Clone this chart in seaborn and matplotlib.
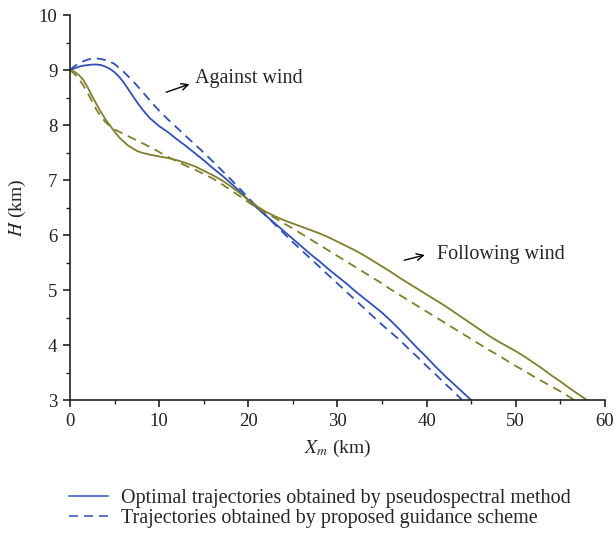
import numpy as np
import pandas as pd
import matplotlib
matplotlib.use("Agg")
import matplotlib.pyplot as plt
import seaborn as sns
from matplotlib.ticker import MultipleLocator
from matplotlib.lines import Line2D

# ---------------- data ----------------
blue_opt_x = [0, 0.5, 1, 1.5, 2, 2.5, 3, 3.5, 4, 4.5, 5, 5.5, 6, 6.5, 7, 7.5, 8, 8.5, 9, 9.5,
              10, 11, 12, 13, 14, 15, 16, 17, 18, 19, 20, 21, 22, 23, 24, 25, 26, 27, 28, 29,
              30, 31, 32, 33, 34, 35, 36, 37, 38, 39, 40, 41, 42, 43, 44, 45]
blue_opt_y = [9.00, 9.03, 9.06, 9.08, 9.09, 9.10, 9.10, 9.09, 9.06, 9.02, 8.96, 8.88, 8.78, 8.66, 8.54, 8.42, 8.31, 8.21, 8.12, 8.05,
              7.98, 7.87, 7.74, 7.62, 7.49, 7.36, 7.22, 7.09, 6.95, 6.80, 6.64, 6.49, 6.35, 6.21, 6.07, 5.93, 5.79, 5.65, 5.52, 5.38,
              5.25, 5.12, 4.98, 4.85, 4.72, 4.59, 4.44, 4.28, 4.11, 3.94, 3.78, 3.61, 3.45, 3.30, 3.15, 3.00]

blue_gd_x = [0, 0.5, 1, 1.5, 2, 2.5, 3, 3.5, 4, 4.5, 5, 5.5, 6, 6.5, 7, 8, 9,
             10, 11, 12, 13, 14, 15, 16, 17, 18, 19, 20, 21, 22, 23, 24, 25, 26, 27, 28, 29,
             30, 31, 32, 33, 34, 35, 36, 37, 38, 39, 40, 41, 42, 43, 44]
blue_gd_y = [9.00, 9.07, 9.12, 9.16, 9.19, 9.21, 9.21, 9.20, 9.18, 9.15, 9.11, 9.04, 8.97, 8.89, 8.81, 8.63, 8.44,
             8.26, 8.10, 7.95, 7.80, 7.65, 7.50, 7.34, 7.18, 7.02, 6.85, 6.68, 6.51, 6.35, 6.19, 6.03, 5.87, 5.72, 5.57, 5.42, 5.27,
             5.12, 4.97, 4.82, 4.67, 4.52, 4.37, 4.23, 4.09, 3.93, 3.78, 3.62, 3.47, 3.31, 3.16, 3.00]

olive_opt_x = [0, 0.5, 1, 1.5, 2, 2.5, 3, 3.5, 4, 4.5, 5, 5.5, 6, 6.5, 7, 7.5, 8, 9,
               10, 11, 12, 13, 14, 15, 16, 17, 18, 19, 20, 21, 22, 23, 24, 25, 26, 27, 28, 29,
               30, 31, 32, 33, 34, 35, 36, 37, 38, 39, 40, 41, 42, 43, 44, 45, 46, 47, 48, 49,
               50, 51, 52, 53, 54, 55, 56, 57, 58]
olive_opt_y = [9.00, 8.97, 8.91, 8.82, 8.68, 8.52, 8.37, 8.23, 8.10, 7.99, 7.88, 7.78, 7.70, 7.63, 7.58, 7.53, 7.50, 7.46,
               7.43, 7.40, 7.36, 7.31, 7.25, 7.17, 7.09, 7.00, 6.89, 6.77, 6.64, 6.52, 6.42, 6.34, 6.27, 6.21, 6.15, 6.09, 6.03, 5.96,
               5.88, 5.80, 5.72, 5.63, 5.53, 5.43, 5.33, 5.22, 5.12, 5.02, 4.92, 4.82, 4.72, 4.61, 4.50, 4.39, 4.28, 4.17, 4.07, 3.98,
               3.89, 3.79, 3.68, 3.57, 3.45, 3.34, 3.22, 3.11, 3.00]

olive_gd_x = [0, 0.5, 1, 1.5, 2, 2.5, 3, 3.5, 4, 4.5, 5, 6, 7, 8, 9,
              10, 11, 12, 13, 14, 15, 16, 17, 18, 19, 20, 21, 22, 23, 24, 25, 26, 27, 28, 29,
              30, 31, 32, 33, 34, 35, 36, 37, 38, 39, 40, 41, 42, 43, 44, 45, 46, 47, 48, 49,
              50, 51, 52, 53, 54, 55, 56, 56.6]
olive_gd_y = [9.00, 8.93, 8.84, 8.72, 8.58, 8.42, 8.27, 8.15, 8.05, 7.98, 7.92, 7.84, 7.76, 7.68, 7.60,
              7.51, 7.42, 7.34, 7.26, 7.19, 7.11, 7.03, 6.93, 6.82, 6.71, 6.60, 6.49, 6.40, 6.31, 6.21, 6.12, 6.02, 5.92, 5.82, 5.72,
              5.62, 5.52, 5.42, 5.32, 5.22, 5.12, 5.01, 4.91, 4.81, 4.71, 4.61, 4.51, 4.41, 4.31, 4.21, 4.11, 4.01, 3.91, 3.82, 3.72,
              3.62, 3.53, 3.43, 3.34, 3.25, 3.16, 3.06, 3.00]

legend_labels = ["Optimal trajectories obtained by pseudospectral method",
                 "Trajectories obtained by proposed guidance scheme"]

x_ticks = [0, 10, 20, 30, 40, 50, 60]
y_ticks = [3, 4, 5, 6, 7, 8, 9, 10]

BLUE = "#2f51b5"
OLIVE = "#7f7f2c"

# ---------------- style ----------------
sns.set_theme(style="ticks")
plt.rcParams["font.family"] = ["Liberation Serif", "DejaVu Serif"]
plt.rcParams["mathtext.fontset"] = "stix"
plt.rcParams["axes.edgecolor"] = "#222222"
plt.rcParams["xtick.color"] = "#222222"
plt.rcParams["ytick.color"] = "#222222"

fig = plt.figure(figsize=(6.14, 5.37), dpi=100)
ax = fig.add_axes([0.114, 0.255, 0.871, 0.717])

DASH = (0, (5.0, 3.3))

def draw(xs, ys, color, dashed):
    df = pd.DataFrame({"x": xs, "y": ys})
    sns.lineplot(data=df, x="x", y="y", ax=ax, color=color, lw=1.3, sort=False,
                 estimator=None, linestyle=DASH if dashed else "-")

draw(blue_opt_x, blue_opt_y, BLUE, False)
draw(blue_gd_x, blue_gd_y, BLUE, True)
draw(olive_opt_x, olive_opt_y, OLIVE, False)
draw(olive_gd_x, olive_gd_y, OLIVE, True)

ax.set_xlim(0, 60)
ax.set_ylim(3, 10)
ax.set_xticks(x_ticks)
ax.set_yticks(y_ticks)
ax.xaxis.set_minor_locator(MultipleLocator(5))
ax.yaxis.set_minor_locator(MultipleLocator(0.5))
ax.tick_params(which="major", direction="out", length=5, width=1.2, labelsize=13.5, pad=4)
ax.tick_params(which="minor", direction="out", length=3, width=1.0)
for s in ("left", "bottom"):
    ax.spines[s].set_linewidth(1.2)
sns.despine(ax=ax)

ax.set_xlabel(r"$X_m$ (km)", fontsize=14, labelpad=6)
ax.set_ylabel(r"$H$ (km)", fontsize=14, labelpad=8)

# annotations
ax.annotate("", xy=(13.7, 8.76), xytext=(10.5, 8.58),
            arrowprops=dict(arrowstyle="->", color="black", lw=1.0))
ax.text(14.0, 8.85, "Against wind", fontsize=14.5, va="center", ha="left")
ax.annotate("", xy=(40.1, 5.65), xytext=(37.2, 5.53),
            arrowprops=dict(arrowstyle="->", color="black", lw=1.0))
ax.text(41.2, 5.64, "Following wind", fontsize=14.5, va="center", ha="left")

# legend
handles = [Line2D([], [], color="#4a6bc2", lw=1.3),
           Line2D([], [], color="#4a6bc2", lw=1.3, linestyle=DASH)]
fig.legend(handles, legend_labels, loc="upper left",
           bbox_to_anchor=(0.10, 0.105), frameon=False, fontsize=14.5,
           handlelength=1.9, handletextpad=0.65, labelspacing=0.05, borderaxespad=0)

fig.savefig("out.png", dpi=100)
